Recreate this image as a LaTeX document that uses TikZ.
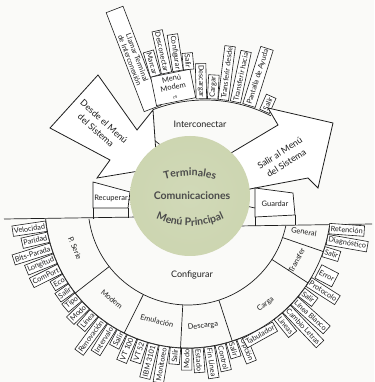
\documentclass[tikz,border=0pt]{standalone}
\usepackage{fontspec}
\setmainfont{Lato}
\usetikzlibrary{decorations.text}

\definecolor{paper}{RGB}{250,250,248}
\definecolor{ink}{RGB}{30,30,30}
\definecolor{hubgreen}{RGB}{204,213,176}
\definecolor{hubedge}{RGB}{228,233,214}

\newcommand{\leaffont}{\fontsize{7.3}{7.9}\selectfont}
\newcommand{\ringfont}{\fontsize{7.5}{8.5}\selectfont}
\newcommand{\menufont}{\fontsize{9}{10}\selectfont}
\newcommand{\hubfont}{\fontsize{10.5}{12}\selectfont}

\pgfdeclareradialshading{hubshade}{\pgfpoint{0bp}{0bp}}{%
  color(0bp)=(hubgreen!90!white); color(28bp)=(hubgreen);
  color(42bp)=(hubedge); color(50bp)=(paper)}

\tikzset{
  wire/.style={draw=ink, line width=0.7pt},
  leaf/.style={draw=ink, fill=white, line width=0.6pt, inner sep=1.4pt,
               minimum height=10.5pt, font=\leaffont, text=ink},
  leafout/.style={leaf, anchor=west},
  leafin/.style={leaf, anchor=east},
  leaftan/.style={leaf, anchor=north},
  ringlabel/.style={font=\ringfont, text=ink},
  menulabel/.style={font=\menufont, text=ink},
  bigarrow/.style={draw=ink, fill=white, line width=0.8pt, line join=miter},
}

\begin{document}
\begin{tikzpicture}[x=1pt, y=1pt]
\fill[paper] (0,0) rectangle (374,382);
\useasboundingbox (0,0) rectangle (374,382);

\coordinate (hub) at (190,186);
\coordinate (ring) at (188,177);
\coordinate (top) at (205,137);

% Configurar and its second ring
\draw[wire] (4,163) -- (139,165);
\draw[wire] (238,156) -- (372,158);
\draw[wire] ([shift={(188:100)}]ring) arc[start angle=188, end angle=347.9, radius=100];
\draw[wire] ([shift={(185.6:143)}]ring) arc[start angle=185.6, end angle=351.6, radius=143];
\draw[wire] ([shift={(218:100)}]ring) -- ([shift={(218:143)}]ring);
\draw[wire] ([shift={(243.5:100)}]ring) -- ([shift={(243.5:143)}]ring);
\draw[wire] ([shift={(267:100)}]ring) -- ([shift={(267:143)}]ring);
\draw[wire] ([shift={(288:100)}]ring) -- ([shift={(288:143)}]ring);
\draw[wire] ([shift={(327:100)}]ring) -- ([shift={(327:143)}]ring);
\draw[wire] ([shift={(341:100)}]ring) -- ([shift={(341:143)}]ring);

\node[menulabel] (configurar) at (192,107) {Configurar};
\node[ringlabel, rotate=-67] (serie) at ([shift={(201:121)}]ring) {P. Serie};
\node[ringlabel, rotate=-39] (modem) at ([shift={(231:121)}]ring) {Modem};
\node[ringlabel, rotate=-15] (emulacion) at ([shift={(255:120)}]ring) {Emulación};
\node[ringlabel, rotate=7] (descarga) at ([shift={(277:122)}]ring) {Descarga};
\node[ringlabel, rotate=38] (carga) at ([shift={(308:126)}]ring) {Carga};
\node[ringlabel, rotate=62] (transfer) at ([shift={(333:122)}]ring) {Transfer};
\node[ringlabel, rotate=-10] (general) at ([shift={(347:119)}]ring) {General};

% leaves of Configurar
\node[leafin, rotate=8.5] (velocidad) at ([shift={(188.5:143)}]ring) {Velocidad};
\node[leafin, rotate=13] (paridad) at ([shift={(193:143)}]ring) {Paridad};
\node[leafin, rotate=17.5] (bitsparada) at ([shift={(197.5:143)}]ring) {Bits-Parada};
\node[leafin, rotate=22] (longitud) at ([shift={(202:143)}]ring) {Longitud};
\node[leafin, rotate=26.5] (comport) at ([shift={(206.5:143)}]ring) {ComPort};
\node[leafin, rotate=31] (eco) at ([shift={(211:143)}]ring) {Eco};
\node[leafin, rotate=35.5] (salirserie) at ([shift={(215.5:143)}]ring) {Salir};
\node[leafin, rotate=40] (tipo) at ([shift={(220:143)}]ring) {Tipo};
\node[leafin, rotate=44.5] (modomodem) at ([shift={(224.5:143)}]ring) {Modo};
\node[leafin, rotate=49] (lineamodem) at ([shift={(229:143)}]ring) {Línea};
\node[leafin, rotate=53.5] (renovacion) at ([shift={(233.5:143)}]ring) {Renovación};
\node[leafin, rotate=58] (intervalo) at ([shift={(238:143)}]ring) {Intervalo};
\node[leafin, rotate=62.5] (salirmodem) at ([shift={(242.5:143)}]ring) {Salir};
\node[leafin, rotate=67] (vtcien) at ([shift={(247:143)}]ring) {VT 100};
\node[leafin, rotate=71.5] (vtcincuenta) at ([shift={(251.5:143)}]ring) {VT 52};
\node[leafin, rotate=76] (ibm) at ([shift={(256:143)}]ring) {IBM 3101};
\node[leafin, rotate=80.5] (monitoreo) at ([shift={(260.5:143)}]ring) {Monitoreo};
\node[leafin, rotate=85] (saliremul) at ([shift={(265:143)}]ring) {Salir};
\node[leafin, rotate=89.5] (mododesc) at ([shift={(269.5:143)}]ring) {Modo};
\node[leafout, rotate=-86] (archivo) at ([shift={(274:143)}]ring) {Estado};
\node[leafout, rotate=-81.5] (finlinea) at ([shift={(278.5:143)}]ring) {Fin Línea};
\node[leafout, rotate=-77] (control) at ([shift={(283:143)}]ring) {Control};
\node[leafout, rotate=-72.5] (salirdesc) at ([shift={(287.5:143)}]ring) {Salir};
\node[leafout, rotate=-68] (opcion) at ([shift={(292:143)}]ring) {Opción};
\node[leaftan, rotate=29] (tabulador) at ([shift={(299:143)}]ring) {Tabulador};
\node[leafout, rotate=-51] (lineas) at ([shift={(309:143)}]ring) {Líneas};
\node[leafout, rotate=-46.5] (cambioletras) at ([shift={(313.5:143)}]ring) {Cambio Letras};
\node[leafout, rotate=-42] (lineablanco) at ([shift={(318:143)}]ring) {Línea Blanco};
\node[leafout, rotate=-37.5] (salircarga) at ([shift={(322.5:143)}]ring) {Salir};
\node[leafout, rotate=-32.5] (protocolo) at ([shift={(327.5:143)}]ring) {Protocolo};
\node[leafout, rotate=-27.5, minimum height=15pt] (error) at ([shift={(333:146)}]ring) {Error};
\node[leafout, rotate=-17] (salirtransf) at ([shift={(341:143)}]ring) {Salir};
\node[leafout, rotate=-10] (diagnostico) at ([shift={(346:143)}]ring) {Diagnóstico};
\node[leafout, rotate=-4] (retencion) at ([shift={(350.5:143)}]ring) {Retención};

% Interconectar and its leaves
\draw[wire] ([shift={(63:145)}]top) arc[start angle=63, end angle=111, radius=145];
\draw[wire] (154,242) -- (172,228);
\node[menulabel] (interconectar) at (200,258) {Interconectar};

\node[leafin, rotate=-69, minimum width=106pt, minimum height=18pt, align=center]
  (llamar) at ([shift={(111:146)}]top) {Llamar Terminal\\de Interconexión};
\node[draw=ink, fill=white, line width=0.6pt, rotate=11.4, anchor=south,
  minimum width=40pt, minimum height=29pt, inner sep=1pt, align=center,
  font=\ringfont, text=ink] (menumodem) at ([shift={(101.4:146)}]top)
  {Menú\\Modem\\[1pt]{\fontsize{5}{5}\selectfont rs}};
\node[leafin, rotate=-73.7] (marcar) at ([shift={(106.3:176)}]top) {Marcar};
\node[leafin, rotate=-77.4] (desconectar) at ([shift={(102.6:176)}]top) {Desconectar};
\node[leafin, rotate=-81.2] (configmodem) at ([shift={(98.8:176)}]top) {Configurar};
\node[leafin, rotate=-84.7] (salirmenumodem) at ([shift={(95.3:176)}]top) {Salir};
\node[leafin, rotate=-88.6] (descargar) at ([shift={(91.4:146)}]top) {Descargar};
\node[leafout, rotate=87] (cargar) at ([shift={(87:146)}]top) {Cargar};
\node[leafout, rotate=82.8] (transfdesde) at ([shift={(82.8:146)}]top) {Transferir desde};
\node[leafout, rotate=78] (transfhacia) at ([shift={(78:146)}]top) {Transferir hacia};
\node[leafout, rotate=72.5, minimum height=13pt] (ayuda) at ([shift={(72.5:146)}]top) {Pantalla de Ayuda};
\node[leafout, rotate=66] (salirinter) at ([shift={(66:146)}]top) {Salir};

% the two big arrows
\draw[bigarrow] (98,307) -- (137,252) -- (153,272) -- (157,214) -- (97,204)
  -- (110,222) -- (50,254) -- cycle;
\node[menulabel, rotate=-42, align=center] (desde) at (100,256) {Desde el Menú\\[2pt]del Sistema};
\draw[bigarrow] (226,226) -- (278,257) -- (268,274) -- (333,259) -- (318,194)
  -- (308,204) -- (255,194) -- (240,191);
\node[menulabel, rotate=32.5, align=center] (salirsistema) at (283,224) {Salir al Menú\\[2pt]del Sistema};

% Recuperar and Guardar
\draw[wire, fill=white] (93,200) -- (130,190) -- (128,174) -- (93,174) -- cycle;
\draw[wire] (93,174) -- (93,163.3);
\draw[wire] (128,174) -- (128,164.3);
\draw[wire] (128,182) -- (138,184);
\node[ringlabel] (recuperar) at (111,184) {Recuperar};
\draw[wire, fill=white] (255,194) -- (293,189) -- (295,167) -- (255,165) -- cycle;
\draw[wire] (255,165) -- (255,156.2);
\draw[wire] (295,167) -- (295,156.8);
\draw[wire] (232,179) -- (255,174);
\node[ringlabel] (guardar) at (275,178) {Guardar};

% the hub
\shade[shading=hubshade] (hub) circle (60);
\path[decorate, decoration={text along path, text align=center,
  text={|\hubfont\bfseries\color{ink!80}|Terminales}}]
  ([shift={(106:92)}]190,114) arc[start angle=106, end angle=74, radius=92];
\node[font=\hubfont\bfseries, text=ink!80] (comunicaciones) at (192,186) {Comunicaciones};
\path[decorate, decoration={text along path, text align=center,
  text={|\hubfont\bfseries\color{ink!80}|Menú Principal}}]
  ([shift={(240:80)}]190,236) arc[start angle=240, end angle=300, radius=80];
\end{tikzpicture}
\end{document}
